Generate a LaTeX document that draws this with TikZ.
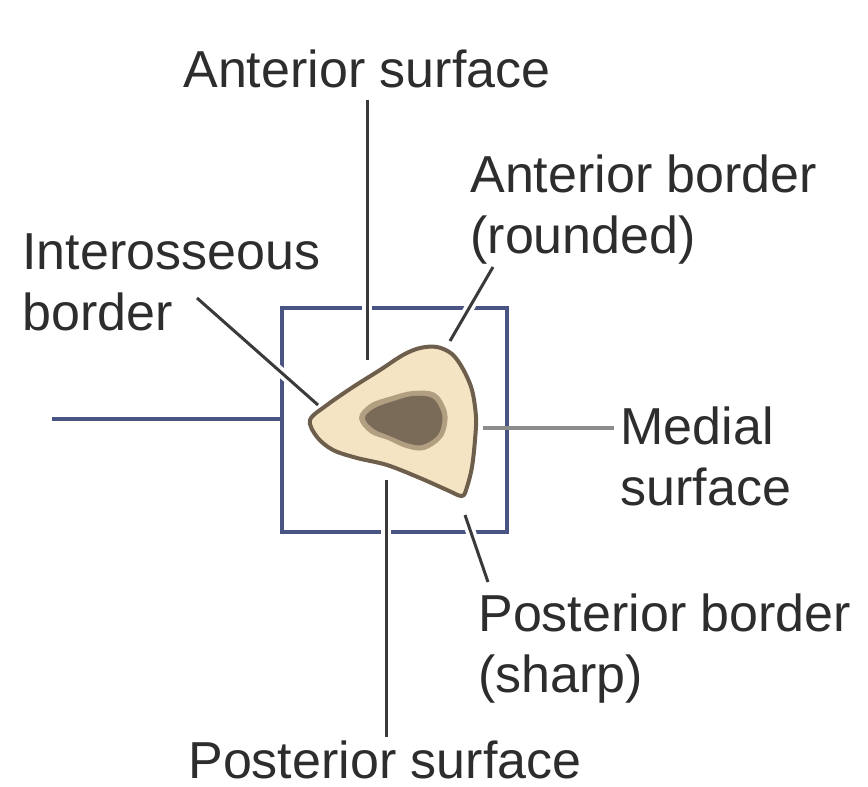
\documentclass[tikz,border=0pt]{standalone}
\usepackage{fontspec}
\setmainfont{Liberation Sans}
\usetikzlibrary{positioning, calc}

\definecolor{boxblue}{RGB}{74,84,130}
\definecolor{leadgray}{RGB}{58,58,58}
\definecolor{medgray}{RGB}{140,140,140}
\definecolor{bonefill}{RGB}{244,228,196}
\definecolor{boneline}{RGB}{110,94,76}
\definecolor{marrow}{RGB}{122,106,88}
\definecolor{marrowedge}{RGB}{178,158,128}
\definecolor{txt}{RGB}{45,45,45}

\begin{document}
\begin{tikzpicture}[x=0.5pt, y=-0.5pt,
    lbl/.style={anchor=base west, inner sep=0pt, align=left, text=txt,
      font=\fontsize{26}{30.5}\selectfont},
    leader/.style={draw=leadgray, line width=1.5pt,
      preaction={draw=white, line width=5pt}},
  ]
  \useasboundingbox (0,0) rectangle (868,787);

  % Frame round the section
  \draw[boxblue, line width=2pt] (282,308) rectangle (507,532);
  \draw[boxblue, line width=2pt] (52,419) -- (282,419);

  % Labels (base = last line)
  \node[lbl] (antsurf) at (183,87) {Anterior surface};
  \node[lbl] (antbord) at (470,253) {Anterior border\\(rounded)};
  \node[lbl] (inteross) at (22,330) {Interosseous\\border};
  \node[lbl] (medial) at (620,505) {Medial\\surface};
  \node[lbl] (postbord) at (478,692) {Posterior border\\(sharp)};
  \node[lbl] (postsurf) at (188,778) {Posterior surface};

  % Leader ends
  \coordinate (as-a) at (367,100);
  \coordinate (as-b) at (367,360);
  \coordinate (ab-a) at (493,267);
  \coordinate (ab-b) at (450,341);
  \coordinate (io-a) at (197,298);
  \coordinate (io-b) at (318,405);
  \coordinate (ms-a) at (483,428);
  \coordinate (ms-b) at (614,428);
  \coordinate (pb-a) at (465,515);
  \coordinate (pb-b) at (488,582);
  \coordinate (ps-a) at (386,480);
  \coordinate (ps-b) at (386,737);

  % Leaders
  \draw[leader] (as-a) -- (as-b);
  \draw[leader] (ab-a) -- (ab-b);
  \draw[leader] (io-a) -- (io-b);
  \draw[leader] (pb-a) -- (pb-b);
  \draw[leader] (ps-a) -- (ps-b);
  \draw[medgray, line width=2pt] (ms-a) -- (ms-b);

  % Bone in section
  \draw[boneline, fill=bonefill, line width=2pt] plot[smooth cycle, tension=0.55] coordinates {
    (310,420) (327,405) (353,387) (380,370) (403,355) (420,348)
    (437,347) (452,354) (463,369) (472,390) (476,417) (475,440)
    (472,467) (467,487) (462,496) (447,490) (420,478) (387,465)
    (357,458) (333,450) (317,437)};
  % Marrow cavity
  \fill[marrowedge] plot[smooth cycle, tension=0.6] coordinates {
    (359,418) (370,404) (392,396) (413,391) (435,393) (446,409)
    (447,424) (441,439) (424,450) (406,448) (388,440) (370,433)};
  \fill[marrow] plot[smooth cycle, tension=0.6] coordinates {
    (365,418) (375,408) (394,401) (413,396) (432,398) (441,411)
    (442,423) (437,436) (422,445) (407,443) (390,436) (374,429)};
\end{tikzpicture}
\end{document}
